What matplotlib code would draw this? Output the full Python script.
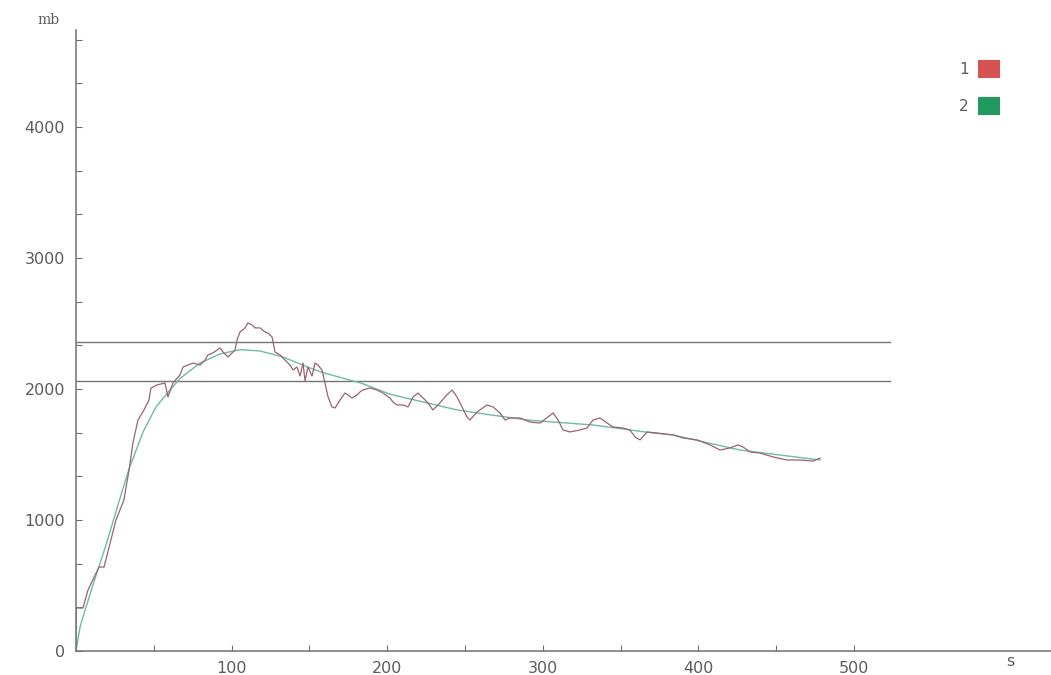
import matplotlib
matplotlib.use("Agg")
import matplotlib.pyplot as plt
from matplotlib.patches import Patch
from matplotlib.ticker import MultipleLocator, FixedLocator

# measured series (1): time in s, value in mb
t_meas = [0, 0, 4.5, 7.7, 14.8, 18.0, 25.7, 30.8, 34.1, 36.6, 39.8, 43.7, 46.9, 48.2,
          52.1, 57.2, 59.1, 62.3, 66.8, 68.8, 75.2, 79.7, 82.9, 84.8, 88.0, 92.5, 94.5,
          97.7, 100.3, 102.2, 103.5, 105.4, 108.6, 110.5, 113.1, 115.0, 118.3, 121.5,
          123.4, 126.0, 127.9, 131.1, 134.3, 137.5, 139.5, 142.0, 144.0, 145.9, 147.2,
          149.1, 151.7, 153.6, 155.5, 158.1, 160.0, 162.0, 164.5, 166.5, 169.7, 172.9,
          174.8, 177.4, 180.6, 182.5, 184.4, 188.9, 193.4, 197.3, 201.8, 203.7, 206.3,
          210.2, 213.4, 216.6, 219.8, 222.4, 225.6, 229.4, 233.9, 237.1, 241.6, 244.9,
          248.1, 251.3, 253.2, 257.7, 264.1, 268.0, 272.5, 275.7, 278.9, 285.3, 291.8,
          298.2, 303.3, 306.6, 309.8, 313.0, 317.5, 323.9, 328.4, 332.3, 336.8, 341.3,
          345.1, 351.5, 356.0, 359.3, 362.5, 367.0, 373.4, 383.7, 390.1, 399.1, 407.5,
          413.9, 420.3, 425.4, 428.7, 433.2, 439.6, 448.0, 457.0, 465.3, 473.7, 478.1]
v_meas = [0, 328, 328, 466, 641, 641, 1000, 1153, 1382, 1588, 1763, 1840, 1916, 2008,
          2031, 2046, 1939, 2046, 2107, 2168, 2198, 2183, 2221, 2260, 2275, 2313, 2282,
          2244, 2275, 2298, 2374, 2435, 2466, 2504, 2489, 2466, 2466, 2435,
          2427, 2397, 2282, 2260, 2221, 2183, 2145, 2168, 2099, 2198, 2061,
          2168, 2099, 2198, 2183, 2145, 2046, 1939, 1863, 1855, 1916, 1969,
          1954, 1931, 1954, 1977, 1992, 2008, 1992, 1969, 1931, 1901, 1878,
          1878, 1863, 1939, 1969, 1939, 1901, 1840, 1893, 1939, 1992, 1939,
          1863, 1786, 1763, 1824, 1878, 1863, 1817, 1763, 1779, 1779, 1748,
          1740, 1786, 1817, 1763, 1687, 1672, 1687, 1702, 1763, 1779, 1740,
          1710, 1702, 1687, 1634, 1611, 1672, 1664, 1649, 1626, 1611, 1573,
          1534, 1550, 1573, 1557, 1519, 1511, 1481, 1458, 1458, 1450, 1473]

# fitted curve (2)
t_fit = [0, 2.6, 4.5, 10.9, 19.3, 27.6, 34.1, 43.1, 51.4, 60.4, 66.8, 79.7, 92.5,
         105.4, 118.3, 133.0, 150.4, 158.7, 184.4, 201.8, 223.0, 244.9, 257.7, 289.8,
         332.3, 370.8, 383.7, 426.7, 478.1]
v_fit = [0, 183, 260, 505, 810, 1140, 1390, 1672, 1863, 1992, 2080, 2198, 2267,
         2300, 2290, 2244, 2160, 2125, 2040, 1960, 1901, 1840, 1817, 1763,
         1725, 1664, 1649, 1534, 1458]

# reference levels
levels = [2355, 2060]
level_end = 523

x_labels = [100, 200, 300, 400, 500]
y_labels = [0, 1000, 2000, 3000, 4000]

C_MEAS = "#9c636b"
C_FIT = "#6cbca6"
C_AXIS = "#707070"
C_TEXT = "#5c5c5c"

fig = plt.figure(figsize=(10.51, 6.75), dpi=100)
ax = fig.add_axes([76 / 1051, 24 / 675, 975 / 1051, 621 / 675])
ax.set_xlim(0, 626.6)
ax.set_ylim(0, 4740)

for lv in levels:
    ax.plot([0, level_end], [lv, lv], color="#737373", lw=1.0)

ax.plot(t_fit, v_fit, color=C_FIT, lw=1.0)
ax.plot(t_meas, v_meas, color=C_MEAS, lw=0.9)

for s in ["top", "right"]:
    ax.spines[s].set_visible(False)
for s in ["left", "bottom"]:
    ax.spines[s].set_color(C_AXIS)
    ax.spines[s].set_linewidth(1.1)

ax.xaxis.set_major_locator(FixedLocator(x_labels))
ax.xaxis.set_minor_locator(FixedLocator([50, 150, 250, 350, 450]))
ax.yaxis.set_major_locator(FixedLocator(y_labels))
ax.yaxis.set_minor_locator(MultipleLocator(1000 / 3))
ax.tick_params(which="both", direction="in", length=4, width=0.8, color=C_AXIS,
               labelcolor=C_TEXT, labelsize=11.5)
ax.tick_params(axis="x", pad=7)
ax.tick_params(axis="y", pad=8)

fig.text(48 / 1051, 1 - 20 / 675, "mb", ha="center", va="center",
         fontsize=10, color=C_TEXT, family="DejaVu Serif")
fig.text(1010 / 1051, 1 - 662 / 675, "s", ha="center", va="center",
         fontsize=11.5, color=C_TEXT)

handles = [Patch(facecolor="#d6524e", edgecolor="none", label="1"),
           Patch(facecolor="#1f9a5c", edgecolor="none", label="2")]
leg = fig.legend(handles=handles, loc="upper right",
                 bbox_to_anchor=(1014 / 1051, 1 - 46 / 675), frameon=False,
                 markerfirst=False, handlelength=1.45, handleheight=1.45,
                 handletextpad=0.6, labelspacing=1.25, fontsize=11)
for txt in leg.get_texts():
    txt.set_color(C_TEXT)

fig.savefig("out.png", dpi=100, facecolor="white")
